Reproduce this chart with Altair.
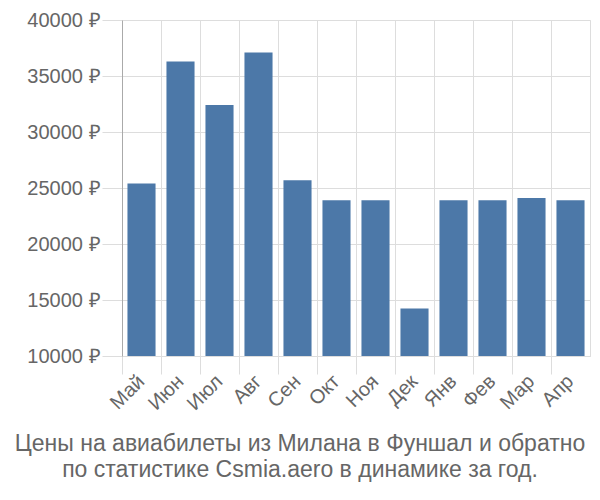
import altair as alt
import pandas as pd

months = ["Май", "Июн", "Июл", "Авг", "Сен", "Окт", "Ноя", "Дек", "Янв", "Фев", "Мар", "Апр"]
prices = [25400, 36300, 32400, 37100, 25700, 23900, 23900, 14250, 23900, 23900, 24100, 23900]
y_ticks = [10000, 15000, 20000, 25000, 30000, 35000, 40000]
title_lines = ["Цены на авиабилеты из Милана в Фуншал и обратно",
               "по статистике Csmia.aero в динамике за год."]

df = pd.DataFrame({"month": months, "price": prices})

FONT = "Liberation Sans"
GRAY = "#666666"
GRID = "#dddddd"

chart = alt.Chart(df).mark_bar(color="#4c78a8", width=alt.RelativeBandSize(0.72), clip=True).encode(
    x=alt.X("month:N", sort=months, title=None,
            scale=alt.Scale(paddingInner=0, paddingOuter=0),
            axis=alt.Axis(labelAngle=-45, labelAlign="right", labelBaseline="middle",
                          labelFontSize=20, labelColor=GRAY, labelFont=FONT,
                          bandPosition=0, grid=True, gridColor=GRID,
                          tickColor=GRID, tickSize=18, domainColor=GRID,
                          labelPadding=4)),
    y=alt.Y("price:Q", title=None,
            scale=alt.Scale(domain=[10000, 40000], nice=False, zero=False),
            axis=alt.Axis(values=y_ticks, labelExpr="datum.value + ' ₽'",
                          labelFontSize=20, labelColor=GRAY, labelFont=FONT,
                          gridColor=GRID, tickColor=GRID, tickSize=20,
                          domainColor="#aaaaaa", labelPadding=2)),
).properties(
    width=468, height=336,
    autosize=alt.AutoSizeParams(type="none"),
    padding={"left": 114, "top": 12, "right": 2, "bottom": 136},
    title=alt.TitleParams(text=title_lines, orient="bottom", anchor="middle",
                          font=FONT, fontSize=23, fontWeight="normal",
                          color=GRAY, dx=-56, offset=19, lineHeight=26),
).configure_view(stroke=GRID)

chart.save("out.html", embed_options={"renderer": "svg", "actions": False})
